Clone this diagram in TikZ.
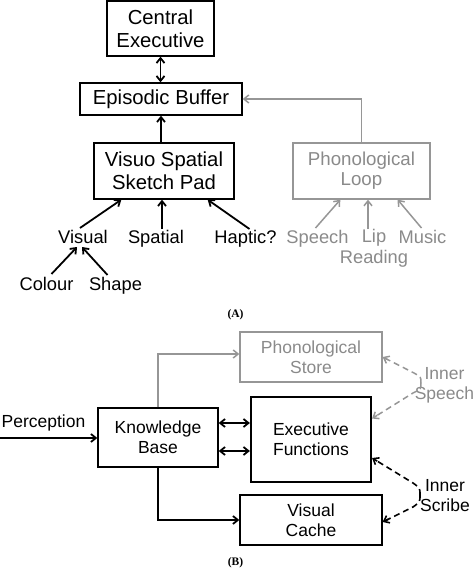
\documentclass[tikz,border=0pt]{standalone}
\usepackage{fontspec}
\setmainfont{Liberation Sans}
\newfontfamily\capfont{Liberation Serif}
\usetikzlibrary{arrows.meta,calc}
\definecolor{gtext}{RGB}{138,138,138}
\definecolor{gline}{RGB}{150,150,150}
\tikzset{
  box/.style={draw, line width=1.3pt, inner sep=0pt, align=center},
  fa/.style={font=\fontsize{20.3}{23}\selectfont},
  fl/.style={font=\fontsize{18.3}{21}\selectfont},
  fb/.style={font=\fontsize{17.5}{20}\selectfont},
  lab/.style={inner sep=0pt, anchor=base},
  tip/.style={-{Straight Barb[length=5pt,width=8pt]}},
  arr/.style={line width=1.8pt, tip},
  darr/.style={line width=1.8pt, {Straight Barb[length=5pt,width=8pt]}-{Straight Barb[length=5pt,width=8pt]}},
  garr/.style={line width=1.5pt, draw=gline, tip},
  gdash/.style={line width=1.5pt, draw=gline, dash pattern=on 6pt off 4pt},
  kdash/.style={line width=1.6pt, draw=black, dash pattern=on 6pt off 4pt},
  ktip/.style={line width=1.6pt, draw=black, tip},
  capl/.style={inner sep=0pt, anchor=base, font=\capfont\bfseries\fontsize{11.5}{13}\selectfont}
}
\begin{document}
\begin{tikzpicture}[x=1pt,y=-1pt]
\useasboundingbox (0,0) rectangle (474,568);
% ---------- Part A ----------
\node[box,fa,minimum width=107pt,minimum height=55pt] (ce) at (160.5,28.5) {Central\\Executive};
\node[box,fa,minimum width=162pt,minimum height=32pt] (eb) at (161,99) {Episodic Buffer};
\node[box,fa,minimum width=140pt,minimum height=56pt] (vssp) at (164,171) {Visuo Spatial\\Sketch Pad};
\node[box,draw=gline,text=gtext,font=\fontsize{18.7}{20}\selectfont,minimum width=137pt,minimum height=56pt] (pl) at (361.5,171) {Phonological\\Loop};

\node[lab,fl] (visual) at (83,243.5) {Visual};
\node[lab,fl] (spatial) at (156,243.5) {Spatial};
\node[lab,fl] (haptic) at (245.5,243.5) {Haptic?};
\node[lab,fl] (colour) at (46.5,290.5) {Colour};
\node[lab,fl] (shape) at (115.5,290.5) {Shape};
\node[lab,fl,text=gtext] (speech) at (317.5,243) {Speech};
\node[inner sep=0pt,fl,align=center,text=gtext] (lip) at (374,248.7) {Lip\\Reading};
\node[lab,fl,text=gtext] (music) at (422.5,243) {Music};

\node[capl] (capA) at (235.5,317) {(A)};

\draw[darr] (ce.south) -- (ce.south |- eb.north);
\draw[arr] (eb.south |- vssp.north) -- (eb.south);
\draw[garr] (pl.north) |- (eb.east);

\draw[arr] ([xshift=-3pt,yshift=15.5pt]visual.base) -- ([xshift=28pt]vssp.south west);
\draw[arr] ([xshift=6pt,yshift=14.5pt]spatial.base) coordinate (sp1) -- (sp1 |- vssp.south);
\draw[arr] ([xshift=4pt,yshift=14.5pt]haptic.base) -- ([xshift=-27pt]vssp.south east);
\draw[arr] ([xshift=5pt,yshift=16.5pt]colour.base) -- ([xshift=-6pt,yshift=-3.5pt]visual.base);
\draw[arr] ([xshift=-8pt,yshift=15.5pt]shape.base) -- ([xshift=-1pt,yshift=-3.5pt]visual.base);

\draw[garr] ([xshift=-2pt,yshift=15pt]speech.base) -- ([xshift=48pt]pl.south west);
\draw[garr] ([xshift=-6pt,yshift=19.7pt]lip.center) coordinate (lp1) -- (lp1 |- pl.south);
\draw[garr] ([xshift=-1pt,yshift=15pt]music.base) -- ([xshift=-33pt]pl.south east);

% ---------- Part B ----------
\node[box,draw=gline,text=gtext,fb,minimum width=142pt,minimum height=50pt] (ps) at (311,357) {Phonological\\Store};
\node[box,fb,minimum width=120pt,minimum height=59pt] (kb) at (158,437.5) {Knowledge\\Base};
\node[box,fb,line width=2.2pt,minimum width=120pt,minimum height=85pt] (ef) at (311,439.5) {Executive\\Functions};
\node[box,fb,minimum width=142pt,minimum height=50pt] (vc) at (311,520) {Visual\\Cache};

\node[lab,fb] (perc) at (43.5,427) {Perception};
\coordinate (pstart) at (0,438);
\node[inner sep=0pt,fb,align=center,text=gtext] (ispeech) at (444.5,385) {Inner\\Speech};
\node[inner sep=0pt,fb,align=center] (iscribe) at (445,495.6) {Inner\\Scribe};
\node[capl] (capB) at (235.5,565) {(B)};

\draw[arr] (pstart) -- (pstart -| kb.west);
\draw[garr] (kb.north) |- ([yshift=3pt]ps.west);
\draw[darr] ([yshift=14.5pt]kb.east) -- ([yshift=14.5pt]kb.east -| ef.west);
\draw[darr] ([yshift=-13.5pt]kb.east) -- ([yshift=-13.5pt]kb.east -| ef.west);
\draw[arr] (kb.south) |- (vc.west);

% Inner Speech brace (grey, dashed)
\coordinate (isb) at (421,383);
\coordinate (efs) at ([yshift=21pt]ef.east);
\draw[gdash] (isb) .. controls (421,377) .. (414,373) -- ($(ps.east)!3pt!(414,373)$);
\draw[garr] ($(ps.east)!6pt!(414,373)$) -- (ps.east);
\draw[gdash] (isb) .. controls (421,389) .. (413,393) -- ($(efs)!3pt!(413,393)$);
\draw[garr] ($(efs)!6pt!(413,393)$) -- (efs);

% Inner Scribe brace (black, dashed)
\coordinate (isc) at (420,495);
\coordinate (efk) at ([yshift=-18.5pt]ef.east);
\coordinate (vck) at ([yshift=-2pt]vc.east);
\draw[kdash] (isc) .. controls (420,488) .. (413,483) -- ($(efk)!3pt!(413,483)$);
\draw[ktip] ($(efk)!6pt!(413,483)$) -- (efk);
\draw[kdash] (isc) .. controls (420,502) .. (413,507) -- ($(vck)!3pt!(413,507)$);
\draw[ktip] ($(vck)!6pt!(413,507)$) -- (vck);
\end{tikzpicture}
\end{document}
